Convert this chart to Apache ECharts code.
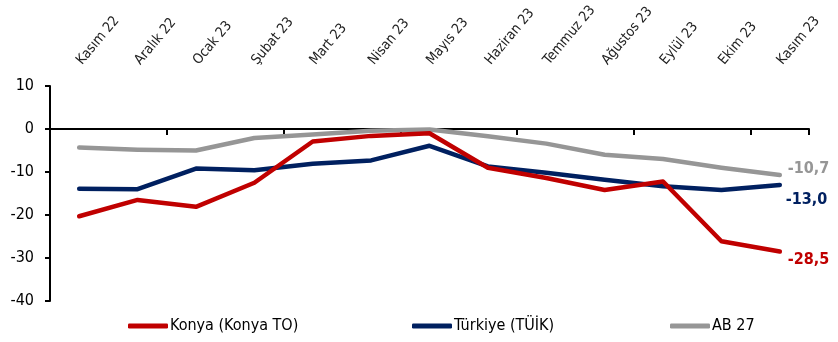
<!DOCTYPE html>
<html>
<head>
<meta charset="utf-8">
<script src="https://cdn.jsdelivr.net/npm/echarts@6/dist/echarts.min.js"></script>
<style>
html,body{margin:0;padding:0;background:#fff;}
#chart{width:838px;height:342px;}
</style>
</head>
<body>
<div id="chart"></div>
<script>
var categories = ['Kasım 22','Aralık 22','Ocak 23','Şubat 23','Mart 23','Nisan 23','Mayıs 23','Haziran 23','Temmuz 23','Ağustos 23','Eylül 23','Ekim 23','Kasım 23'];
var konya   = [-20.3, -16.5, -18.1, -12.5, -2.9, -1.6, -1.0, -9.0, -11.4, -14.2, -12.2, -26.1, -28.5];
var turkiye = [-13.9, -14.0, -9.2, -9.6, -8.1, -7.3, -3.9, -8.7, -10.2, -11.8, -13.3, -14.2, -13.0];
var ab27    = [-4.3, -4.8, -5.0, -2.1, -1.3, -0.4, -0.1, -1.7, -3.4, -6.0, -7.0, -9.0, -10.7];
var yTicks  = [-40, -30, -20, -10, 0, 10];
var seriesNames = ['Konya (Konya TO)', 'Türkiye (TÜİK)', 'AB 27'];

var FONT = '"DejaVu Sans Condensed", "Liberation Sans Narrow", "Liberation Sans", Arial, sans-serif';
var colors = ['#C00000', '#002060', '#969696'];
var endOffsets = [[2, 8], [0, 15], [2, -6]];

var chart = echarts.init(document.getElementById('chart'), null, {renderer: 'canvas'});
var legendBase = {
  top: 313,
  itemWidth: 40,
  itemHeight: 5,
  itemGap: 0,
  textStyle: {fontFamily: FONT, fontSize: 16, color: '#000', padding: [0, 0, 0, -3]},
  icon: 'roundRect'
};
chart.setOption({
  animation: false,
  textStyle: {fontFamily: FONT},
  grid: {left: 50, right: 29, top: 86, bottom: 41, containLabel: false},
  legend: [
    Object.assign({}, legendBase, {left: 123, data: [seriesNames[0]]}),
    Object.assign({}, legendBase, {left: 407, data: [seriesNames[1]]}),
    Object.assign({}, legendBase, {left: 665, data: [seriesNames[2]]})
  ],
  xAxis: [
    {
      type: 'category',
      data: categories,
      boundaryGap: true,
      position: 'bottom',
      axisLine: {onZero: true, lineStyle: {color: '#000', width: 2}},
      axisTick: {show: true, inside: false, length: 6, lineStyle: {color: '#000', width: 2}},
      axisLabel: {show: false},
      splitLine: {show: false}
    },
    {
      type: 'category',
      data: categories,
      boundaryGap: true,
      position: 'top',
      axisLine: {show: false, onZero: false},
      axisTick: {show: false},
      axisLabel: {show: true, rotate: -50, margin: 23, interval: 0, fontSize: 14, color: '#222', fontFamily: FONT},
      splitLine: {show: false}
    }
  ],
  yAxis: {
    type: 'value',
    min: yTicks[0],
    max: yTicks[yTicks.length - 1],
    interval: 10,
    axisLine: {show: true, lineStyle: {color: '#000', width: 2}},
    axisTick: {show: true, inside: false, length: 5, lineStyle: {color: '#000', width: 2}},
    axisLabel: {margin: 16, fontSize: 16, color: '#000', fontFamily: FONT},
    splitLine: {show: false}
  },
  series: [konya, turkiye, ab27].map(function (arr, idx) {
    return {
      name: seriesNames[idx],
      type: 'line',
      xAxisIndex: 0,
      data: arr,
      symbol: 'none',
      showSymbol: false,
      smooth: false,
      color: colors[idx],
      lineStyle: {width: 4.5, color: colors[idx], cap: 'round', join: 'round'},
      endLabel: {
        show: true,
        distance: 6,
        offset: endOffsets[idx],
        color: colors[idx],
        fontFamily: FONT,
        fontWeight: 'bold',
        fontSize: 16,
        formatter: function (p) { return Number(p.value).toFixed(1).replace('.', ','); }
      },
      z: idx === 0 ? 4 : 3
    };
  })
});
</script>
</body>
</html>
